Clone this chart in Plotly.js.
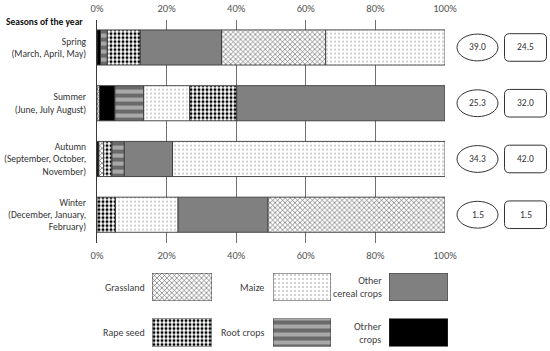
<!DOCTYPE html>
<html><head><meta charset="utf-8">
<script src="https://cdn.plot.ly/plotly-3.0.1.min.js"></script>
<style>html,body{margin:0;padding:0;background:#fff}</style>
</head><body><div id="chart" style="width:550px;height:351px"></div>
<script>
// ---- data ----
const seasons = ['Spring<br>(March, April, May)', 'Summer<br>(June, July August)', 'Autumn<br>(September, October,<br>November)', 'Winter<br>(December, January,<br>February)'];
const crops = ['Grassland', 'Maize', 'Other<br>cereal crops', 'Rape seed', 'Root crops', 'Otrher<br>crops'];
const grassland   = [29.9, 0.7, 1.4, 50.9];
const maize       = [34.3, 13.2, 78.3, 18.0];
const otherCereal = [23.4, 59.9, 13.9, 25.8];
const rapeSeed    = [9.5, 13.5, 2.4, 5.3];
const rootCrops   = [1.9, 8.3, 3.5, 0];
const otherCrops  = [1.0, 4.4, 0.5, 0];
const ellipseValues = ['39.0', '25.3', '34.3', '1.5'];
const boxValues     = ['24.5', '32.0', '42.0', '1.5'];
const xTickVals   = [0, 20, 40, 60, 80, 100];
const xTickLabels = ['0%', '20%', '40%', '60%', '80%', '100%'];
const headerText = 'Seasons of the year';

// ---- styles ----
const FONT = 'Carlito, Calibri, Lato, sans-serif';
const LINE = {color: '#3a3a3a', width: 0.9};
const styles = [
  {color: '#ffffff', pattern: {shape: 'x', fgcolor: '#4a4a4a', bgcolor: '#ffffff', size: 3.5, solidity: 0.3}},
  {color: '#ffffff', pattern: {shape: '.', fgcolor: '#7a7a7a', bgcolor: '#ffffff', size: 4, solidity: 0.08}},
  {color: '#808080'},
  {color: '#ffffff', pattern: {shape: '.', fgcolor: '#000000', bgcolor: '#ffffff', size: 4, solidity: 0.45}},
  {color: '#a6a6a6', pattern: {shape: '-', fgcolor: '#6a6a6a', bgcolor: '#a8a8a8', size: 8, solidity: 0.5}},
  {color: '#000000'}
];
const series = [grassland, maize, otherCereal, rapeSeed, rootCrops, otherCrops];

// per-season base: segments are ordered ascending by share
const bases = series.map(() => []);
seasons.forEach((s, i) => {
  const order = series.map((v, k) => k).sort((a, b) => series[a][i] - series[b][i]);
  let acc = 0;
  order.forEach(k => { bases[k][i] = acc; acc += series[k][i]; });
});

const W = 550, H = 351;
const px = x => x / W, py = y => 1 - y / H;
const xDom = [px(97), px(445)];
const yDom = [py(242.6), py(19.6)];

const traces = series.map((vals, k) => ({
  type: 'bar', orientation: 'h', y: seasons,
  x: vals.map(v => v > 0 ? v : null), base: bases[k],
  width: 0.63, xaxis: 'x', yaxis: 'y', showlegend: false, hoverinfo: 'skip',
  marker: Object.assign({line: LINE}, styles[k])
}));

// legend swatches as tiny subplots
const swCols = [[152, 212], [273, 331], [389, 448]];
const swRows = [[273, 301], [318.5, 346.5]];
const labelRight = [147, 266, 384];
const layout = {
  width: W, height: H, margin: {l: 0, r: 0, t: 0, b: 0},
  paper_bgcolor: '#ffffff', plot_bgcolor: 'rgba(0,0,0,0)',
  barmode: 'overlay', showlegend: false,
  font: {family: FONT, color: '#404040', size: 10},
  xaxis: {domain: xDom, range: [0, 100], tickvals: xTickVals, ticktext: xTickLabels,
    showgrid: true, gridcolor: '#707070', gridwidth: 1, zeroline: false, showline: false,
    ticks: '', ticklabelstandoff: 5, tickfont: {size: 10.5, color: '#555555'}, fixedrange: true},
  xaxis2: {overlaying: 'x', side: 'top', anchor: 'y', range: [0, 100], tickvals: xTickVals, ticktext: xTickLabels,
    showgrid: false, zeroline: false, showline: false, ticks: '', ticklabelstandoff: 5,
    tickfont: {size: 10.5, color: '#555555'}, fixedrange: true},
  yaxis: {domain: yDom, type: 'category', range: [3.5, -0.5], showgrid: false, zeroline: false,
    showline: true, linecolor: '#3a3a3a', linewidth: 1, ticks: '', ticklabelstandoff: 8,
    tickfont: {size: 9.5, color: '#333333'}, fixedrange: true},
  shapes: [], annotations: []
};
traces.push({type: 'bar', orientation: 'h', x: [], y: [], xaxis: 'x2', yaxis: 'y', showlegend: false});

crops.forEach((name, k) => {
  const col = k % 3, row = Math.floor(k / 3), n = k + 3;
  layout['xaxis' + n] = {domain: [px(swCols[col][0]), px(swCols[col][1])], range: [0, 1], visible: false, fixedrange: true, anchor: 'y' + n};
  layout['yaxis' + n] = {domain: [py(swRows[row][1]), py(swRows[row][0])], range: [-0.5, 0.5], visible: false, fixedrange: true, anchor: 'x' + n};
  traces.push({type: 'bar', orientation: 'h', x: [1], y: [0], base: [0], width: [1],
    xaxis: 'x' + n, yaxis: 'y' + n, showlegend: false, hoverinfo: 'skip',
    marker: Object.assign({line: {color: '#3a3a3a', width: 1}}, styles[k])});
  layout.annotations.push({text: name, xref: 'paper', yref: 'paper', showarrow: false,
    x: px(labelRight[col]), xanchor: 'right', y: py((swRows[row][0] + swRows[row][1]) / 2), yanchor: 'middle',
    align: 'right', font: {size: 10, color: '#404040'}});
});

// header
layout.annotations.push({text: '<b>' + headerText + '</b>', xref: 'paper', yref: 'paper', showarrow: false,
  x: px(85), xanchor: 'right', y: py(22), yanchor: 'middle', font: {size: 9.5, color: '#111111'}});

// ellipses and rounded boxes
const yCenter = i => yDom[1] - (i + 0.5) / seasons.length * (yDom[1] - yDom[0]);
const ex = [457, 498], bx = [504.5, 546.5];
const eh = 13.4 / H, bh = 13.8 / H;
const rx = 5 / W, ry = 5 / H;
seasons.forEach((s, i) => {
  const yc = yCenter(i);
  layout.shapes.push({type: 'circle', xref: 'paper', yref: 'paper', x0: px(ex[0]), x1: px(ex[1]),
    y0: yc - eh, y1: yc + eh, line: {color: '#333333', width: 1}, fillcolor: 'rgba(0,0,0,0)'});
  const x0 = px(bx[0]), x1 = px(bx[1]), y0 = yc - bh, y1 = yc + bh;
  const path = `M${x0 + rx},${y0} L${x1 - rx},${y0} Q${x1},${y0} ${x1},${y0 + ry} L${x1},${y1 - ry} Q${x1},${y1} ${x1 - rx},${y1} L${x0 + rx},${y1} Q${x0},${y1} ${x0},${y1 - ry} L${x0},${y0 + ry} Q${x0},${y0} ${x0 + rx},${y0} Z`;
  layout.shapes.push({type: 'path', xref: 'paper', yref: 'paper', path: path, line: {color: '#333333', width: 1}});
  layout.annotations.push({text: ellipseValues[i], xref: 'paper', yref: 'paper', showarrow: false,
    x: px((ex[0] + ex[1]) / 2), y: yc, xanchor: 'center', yanchor: 'middle', font: {size: 9.5, color: '#333333'}});
  layout.annotations.push({text: boxValues[i], xref: 'paper', yref: 'paper', showarrow: false,
    x: px((bx[0] + bx[1]) / 2), y: yc, xanchor: 'center', yanchor: 'middle', font: {size: 9.5, color: '#333333'}});
});

Plotly.newPlot('chart', traces, layout, {staticPlot: true, displayModeBar: false});
</script></body></html>
